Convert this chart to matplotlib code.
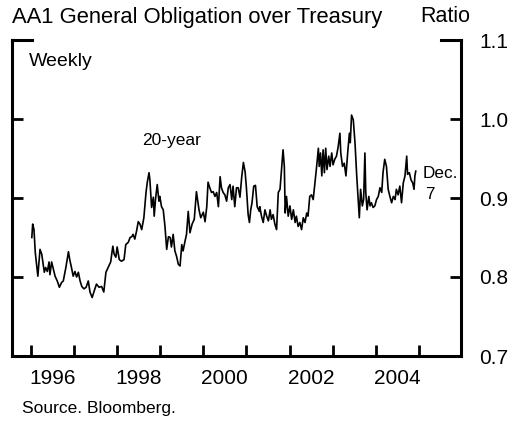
import numpy as np
import matplotlib.pyplot as plt

# AA1 general obligation / Treasury yield ratio, 20-year
years = [
    1996.02, 1996.04, 1996.07, 1996.10, 1996.16, 1996.21, 1996.25, 1996.29, 1996.31, 1996.34,
    1996.38, 1996.42, 1996.44, 1996.48, 1996.52, 1996.56, 1996.61, 1996.66, 1996.71, 1996.75,
    1996.81, 1996.87, 1996.90, 1996.94, 1996.98, 1997.02, 1997.06, 1997.10, 1997.14, 1997.18,
    1997.23, 1997.28, 1997.33, 1997.37, 1997.42, 1997.46, 1997.52, 1997.58, 1997.64, 1997.69,
    1997.74, 1997.79, 1997.85, 1997.90, 1997.93, 1997.97, 1998.00, 1998.05, 1998.10, 1998.16,
    1998.20, 1998.26, 1998.30, 1998.34, 1998.37, 1998.41, 1998.45, 1998.49, 1998.53, 1998.57,
    1998.62, 1998.67, 1998.70, 1998.74, 1998.76, 1998.80, 1998.84, 1998.86, 1998.89, 1998.93,
    1998.97, 1998.99, 1999.03, 1999.07, 1999.11, 1999.15, 1999.19, 1999.23, 1999.26, 1999.30,
    1999.34, 1999.38, 1999.42, 1999.46, 1999.50, 1999.53, 1999.57, 1999.61, 1999.65, 1999.69,
    1999.74, 1999.79, 1999.84, 1999.90, 1999.94, 2000.00, 2000.04, 2000.08, 2000.11, 2000.15,
    2000.19, 2000.23, 2000.27, 2000.31, 2000.35, 2000.39, 2000.42, 2000.46, 2000.50, 2000.54,
    2000.58, 2000.62, 2000.66, 2000.69, 2000.73, 2000.77, 2000.81, 2000.85, 2000.89, 2000.93,
    2000.97, 2001.00, 2001.04, 2001.07, 2001.10, 2001.13, 2001.17, 2001.21, 2001.25, 2001.30,
    2001.31, 2001.35, 2001.39, 2001.43, 2001.47, 2001.51, 2001.55, 2001.58, 2001.62, 2001.66,
    2001.70, 2001.74, 2001.78, 2001.82, 2001.85, 2001.88, 2001.90, 2001.93, 2001.97, 2002.01,
    2002.05, 2002.09, 2002.13, 2002.16, 2002.20, 2002.24, 2002.28, 2002.32, 2002.36, 2002.40,
    2002.43, 2002.47, 2002.51, 2002.55, 2002.59, 2002.63, 2002.67, 2002.69, 2002.72, 2002.75,
    2002.78, 2002.81, 2002.84, 2002.87, 2002.91, 2002.94, 2002.98, 2003.01, 2003.05, 2003.09,
    2003.13, 2003.17, 2003.19, 2003.23, 2003.27, 2003.31, 2003.35, 2003.39, 2003.41, 2003.44,
    2003.48, 2003.52, 2003.56, 2003.59, 2003.62, 2003.65, 2003.69, 2003.72, 2003.75, 2003.77,
    2003.80, 2003.84, 2003.87, 2003.90, 2003.94, 2003.98, 2004.02, 2004.06, 2004.10, 2004.14,
    2004.17, 2004.21, 2004.25, 2004.29, 2004.33, 2004.37, 2004.41, 2004.45, 2004.48, 2004.52,
    2004.56, 2004.60, 2004.64, 2004.68, 2004.72, 2004.74, 2004.78, 2004.82, 2004.86, 2004.89,
    2004.91, 2004.93,
]
ratio = [
    0.850, 0.867, 0.860, 0.831, 0.801, 0.835, 0.829, 0.814, 0.806, 0.812,
    0.807, 0.819, 0.803, 0.819, 0.810, 0.801, 0.795, 0.787, 0.793, 0.795,
    0.812, 0.832, 0.822, 0.812, 0.801, 0.807, 0.800, 0.806, 0.795, 0.788,
    0.785, 0.787, 0.795, 0.781, 0.774, 0.781, 0.791, 0.787, 0.788, 0.781,
    0.806, 0.812, 0.819, 0.839, 0.829, 0.825, 0.838, 0.822, 0.820, 0.822,
    0.841, 0.844, 0.850, 0.851, 0.854, 0.848, 0.858, 0.870, 0.867, 0.860,
    0.875, 0.907, 0.920, 0.932, 0.923, 0.888, 0.901, 0.877, 0.898, 0.917,
    0.896, 0.902, 0.889, 0.885, 0.864, 0.835, 0.851, 0.850, 0.838, 0.854,
    0.833, 0.826, 0.816, 0.814, 0.841, 0.833, 0.844, 0.854, 0.883, 0.856,
    0.867, 0.873, 0.908, 0.885, 0.875, 0.882, 0.870, 0.889, 0.920, 0.913,
    0.907, 0.908, 0.902, 0.907, 0.889, 0.927, 0.913, 0.907, 0.904, 0.896,
    0.913, 0.917, 0.898, 0.915, 0.889, 0.913, 0.913, 0.901, 0.926, 0.945,
    0.933, 0.913, 0.879, 0.869, 0.885, 0.894, 0.915, 0.916, 0.889, 0.883,
    0.889, 0.877, 0.869, 0.885, 0.877, 0.871, 0.885, 0.873, 0.879, 0.867,
    0.860, 0.907, 0.911, 0.940, 0.961, 0.940, 0.881, 0.902, 0.877, 0.890,
    0.873, 0.885, 0.869, 0.877, 0.864, 0.869, 0.860, 0.875, 0.869, 0.881,
    0.877, 0.902, 0.904, 0.898, 0.919, 0.940, 0.963, 0.940, 0.957, 0.928,
    0.961, 0.932, 0.963, 0.936, 0.953, 0.940, 0.957, 0.942, 0.949, 0.953,
    0.965, 0.982, 0.957, 0.940, 0.944, 0.928, 0.957, 0.982, 0.970, 1.005,
    0.999, 0.970, 0.928, 0.902, 0.875, 0.911, 0.890, 0.898, 0.957, 0.907,
    0.885, 0.902, 0.890, 0.894, 0.888, 0.890, 0.898, 0.902, 0.913, 0.907,
    0.932, 0.949, 0.940, 0.911, 0.902, 0.894, 0.902, 0.898, 0.911, 0.904,
    0.915, 0.894, 0.919, 0.928, 0.953, 0.930, 0.932, 0.923, 0.919, 0.911,
    0.928, 0.934,
]

year_ticks = list(range(1996, 2006))
year_labels = ['1996', '1998', '2000', '2002', '2004']
ratio_ticks = [0.7, 0.8, 0.9, 1.0, 1.1]

plt.rcParams['font.family'] = ['Liberation Sans', 'DejaVu Sans']

fig = plt.figure(figsize=(5.11, 4.21), dpi=100)
ax = fig.add_axes([12 / 511, 65 / 421, 449 / 511, 316 / 421])

ax.plot(years, ratio, color='black', lw=1.2)

ax.set_xlim(1995.56, 2005.98)
ax.set_ylim(0.7, 1.1)

# year boundaries get the ticks, labels sit mid-year
ax.set_xticks(year_ticks)
ax.set_xticklabels([])
ax.set_xticks([int(y) + 0.5 for y in year_labels], minor=True)
ax.set_xticklabels(year_labels, minor=True, fontsize=15)
ax.tick_params(axis='x', which='major', direction='in', length=8, width=2)
ax.tick_params(axis='x', which='minor', length=0, pad=9)

ax.set_yticks(ratio_ticks)
ax.set_yticklabels(['%.1f' % v for v in ratio_ticks], fontsize=15)
ax.tick_params(axis='y', direction='in', length=8, width=2,
               left=True, right=True, labelleft=False, labelright=True, pad=13)

for side in ['left', 'right', 'bottom']:
    ax.spines[side].set_linewidth(2.2)
ax.spines['top'].set_visible(False)

# short corner pieces of the top frame
ax.plot([0, 0.045], [1, 1], transform=ax.transAxes, color='black', lw=2.2,
        clip_on=False, solid_capstyle='projecting')
ax.plot([0.955, 1], [1, 1], transform=ax.transAxes, color='black', lw=2.2,
        clip_on=False, solid_capstyle='projecting')

fig.text(12 / 511, 1 - 17 / 421, 'AA1 General Obligation over Treasury',
         fontsize=15.8, va='center', ha='left')
fig.text(470 / 511, 1 - 17 / 421, 'Ratio', fontsize=15.5, va='center', ha='right')
ax.text(0.037, 0.932, 'Weekly', transform=ax.transAxes, fontsize=14,
        va='center', ha='left')
ax.text(1999.27, 0.973, '20-year', fontsize=12.5, ha='center', va='center')
ax.text(2005.49, 0.931, 'Dec.', fontsize=12.3, ha='center', va='center')
ax.text(2005.26, 0.904, '7', fontsize=12.3, ha='center', va='center')
fig.text(22 / 511, 1 - 409 / 421, 'Source. Bloomberg.', fontsize=12.5,
         va='center', ha='left')

fig.savefig('out.png', dpi=100)
